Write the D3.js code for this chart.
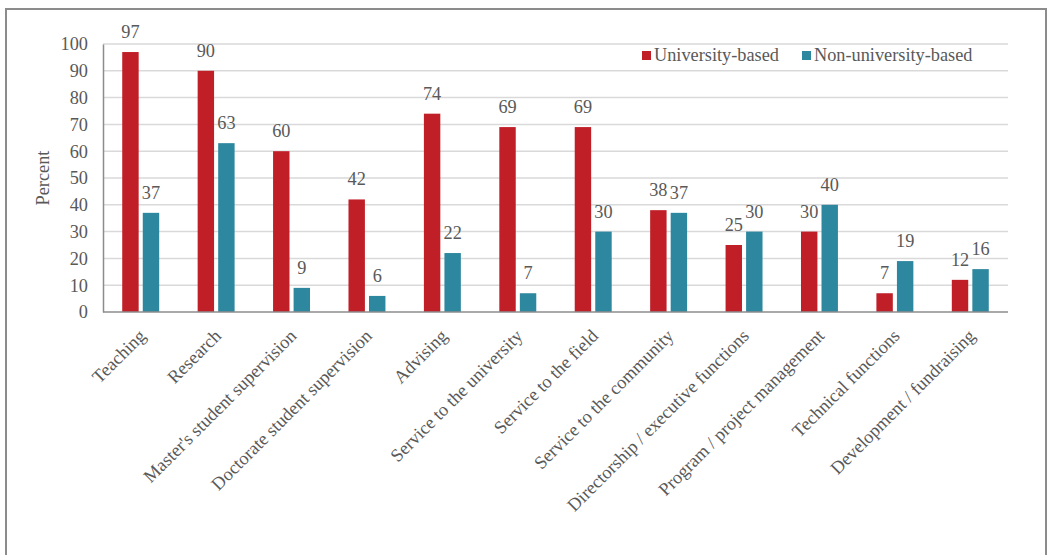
<!DOCTYPE html>
<html>
<head>
<meta charset="utf-8">
<script src="https://cdn.jsdelivr.net/npm/d3@7"></script>
<style>
  body { margin: 0; background: #fff; }
</style>
</head>
<body>
<div id="chart"></div>
<script>
var categories = ["Teaching", "Research", "Master's student supervision", "Doctorate student supervision",
    "Advising", "Service to the university", "Service to the field", "Service to the community",
    "Directorship / executive functions", "Program / project management", "Technical functions",
    "Development / fundraising"];
var seriesNames = ["University-based", "Non-university-based"];
var universityValues = [97, 90, 60, 42, 74, 69, 69, 38, 25, 30, 7, 12];
var nonUniversityValues = [37, 63, 9, 6, 22, 7, 30, 37, 30, 40, 19, 16];
var yTicks = [0, 10, 20, 30, 40, 50, 60, 70, 80, 90, 100];
var colors = ["#c01f28", "#2d879f"];

var FONT = "'Liberation Serif', Tinos, 'Times New Roman', Times, serif";
var FS = 18.3;

var W = 1047, H = 555;
var margin = { top: 44, right: 39, bottom: 243, left: 103 };
var width = W - margin.left - margin.right,
    height = H - margin.top - margin.bottom;

var svg = d3.select("#chart").append("svg")
    .attr("width", W)
    .attr("height", H)
    .attr("font-family", FONT);

// outer frame
svg.append("rect")
    .attr("x", 6).attr("y", 9)
    .attr("width", 1040).attr("height", 560)
    .attr("fill", "none")
    .attr("stroke", "#8c8c8c")
    .attr("stroke-width", 2);

var g = svg.append("g").attr("transform", "translate(" + margin.left + "," + margin.top + ")");

var x0 = d3.scaleBand().domain(categories).range([0, width]).paddingInner(0.51).paddingOuter(0.255);
var x1 = d3.scaleBand().domain(seriesNames).range([0, x0.bandwidth()]).paddingInner(0.2);
var y = d3.scaleLinear().domain([0, 100]).range([height, 0]);

// gridlines
g.selectAll(".grid").data(yTicks.filter(function (d) { return d > 0; }))
    .enter().append("line")
    .attr("x1", 0).attr("x2", width)
    .attr("y1", function (d) { return y(d); })
    .attr("y2", function (d) { return y(d); })
    .attr("stroke", "#d9d9d9")
    .attr("stroke-width", 1.5);

// y axis
var yAxis = g.append("g").call(d3.axisLeft(y).tickValues(yTicks).tickSize(0).tickPadding(15));
yAxis.attr("font-family", FONT).attr("font-size", FS);
yAxis.select(".domain").attr("stroke", "#8c8c8c").attr("stroke-width", 1.5);
yAxis.selectAll("text").attr("fill", "#595959");

var rows = categories.map(function (c, i) {
    return { cat: c, vals: [universityValues[i], nonUniversityValues[i]] };
});

var groups = g.selectAll(".grp").data(rows).enter().append("g")
    .attr("transform", function (d) { return "translate(" + x0(d.cat) + ",0)"; });

groups.selectAll("rect").data(function (d) {
    return d.vals.map(function (v, k) { return { s: seriesNames[k], v: v, k: k }; });
}).enter().append("rect")
    .attr("x", function (d) { return x1(d.s); })
    .attr("y", function (d) { return y(d.v); })
    .attr("width", x1.bandwidth())
    .attr("height", function (d) { return height - y(d.v); })
    .attr("fill", function (d) { return colors[d.k]; });

groups.selectAll(".val").data(function (d) {
    return d.vals.map(function (v, k) { return { s: seriesNames[k], v: v }; });
}).enter().append("text")
    .attr("x", function (d) { return x1(d.s) + x1.bandwidth() / 2; })
    .attr("y", function (d) { return y(d.v) - 14; })
    .attr("text-anchor", "middle")
    .attr("font-size", FS)
    .attr("fill", "#595959")
    .text(function (d) { return d.v; });

// x axis
g.append("line")
    .attr("x1", 0).attr("x2", width)
    .attr("y1", height).attr("y2", height)
    .attr("stroke", "#8c8c8c").attr("stroke-width", 1.5);

g.selectAll(".xlab").data(categories).enter().append("text")
    .attr("text-anchor", "end")
    .attr("transform", function (d) {
        return "translate(" + (x0(d) + x0.bandwidth() / 2 + 6) + "," + (height + 25) + ") rotate(-45)";
    })
    .attr("font-size", FS)
    .attr("fill", "#595959")
    .text(function (d) { return d; });

// y title
svg.append("text")
    .attr("transform", "translate(49,178) rotate(-90)")
    .attr("text-anchor", "middle")
    .attr("font-size", FS)
    .attr("fill", "#595959")
    .text("Percent");

// legend
var legend = svg.append("g").attr("transform", "translate(642,51)");
var lx = [0, 160];
seriesNames.forEach(function (s, k) {
    legend.append("rect").attr("x", lx[k]).attr("y", 0).attr("width", 9).attr("height", 9).attr("fill", colors[k]);
    legend.append("text").attr("x", lx[k] + 12).attr("y", 10).attr("font-size", FS)
        .attr("fill", "#595959").text(s);
});
</script>
</body>
</html>
